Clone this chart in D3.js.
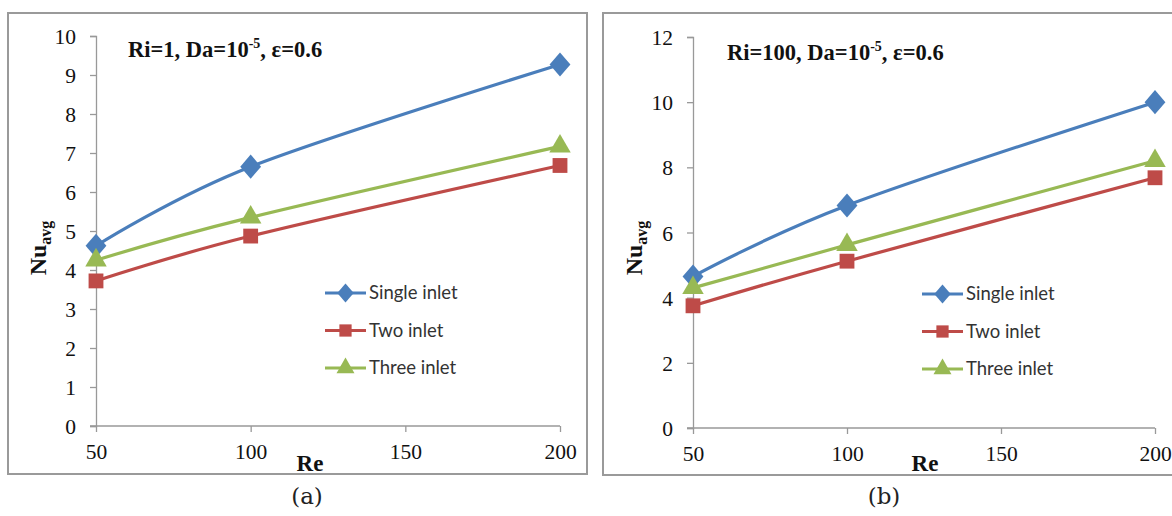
<!DOCTYPE html>
<html lang="en">
<head>
<meta charset="utf-8">
<style>
  body { margin: 0; background: #fff; }
  .legend text { font-family: Lato, "Open Sans", sans-serif; font-size: 18.5px; fill: #333; }
</style>
</head>
<body>
<svg width="1172" height="516"></svg>
<script src="https://cdn.jsdelivr.net/npm/d3@7/dist/d3.min.js"></script>
<script>
// Reynolds numbers on the x axis
var reValues = [50, 100, 200];
var reTicks = [50, 100, 150, 200];
var seriesNames = ["Single inlet", "Two inlet", "Three inlet"];

// panel (a): Ri=1
var singleA = [4.62, 6.65, 9.27];
var twoA = [3.72, 4.87, 6.68];
var threeA = [4.25, 5.35, 7.17];
var yTicksA = [0, 1, 2, 3, 4, 5, 6, 7, 8, 9, 10];

// panel (b): Ri=100
var singleB = [4.65, 6.83, 10.0];
var twoB = [3.75, 5.12, 7.68];
var threeB = [4.3, 5.62, 8.2];
var yTicksB = [0, 2, 4, 6, 8, 10, 12];

var colors = ["#4a7ebb", "#be4b48", "#98b954"];

// excel-like diamond: a bit taller than wide
var diamond = {
    draw: function (ctx, size) {
        var r = Math.sqrt(size / 2);
        ctx.moveTo(0, -r * 1.1);
        ctx.lineTo(r * 0.95, 0);
        ctx.lineTo(0, r * 1.1);
        ctx.lineTo(-r * 0.95, 0);
        ctx.closePath();
    }
};
var symbols = [diamond, d3.symbolSquare, d3.symbolTriangle];
var markerSizes = [240, 220, 200];
var legendSizes = [150, 150, 140];

var svg = d3.select("svg");

function drawPanel(p) {
    var g = svg.append("g");

    // outer frame
    g.append("rect")
        .attr("x", p.frame[0]).attr("y", p.frame[1])
        .attr("width", p.frame[2]).attr("height", p.frame[3])
        .attr("fill", "none").attr("stroke", "#9a9a9a").attr("stroke-width", 2);

    var x = d3.scaleLinear().domain([50, 200]).range([p.left, p.right]);
    var y = d3.scaleLinear().domain([0, p.yMax]).range([p.bottom, p.top]);

    var yAxis = g.append("g")
        .attr("transform", "translate(" + p.left + ",0)")
        .call(d3.axisLeft(y).tickValues(p.yTicks).tickSize(6).tickPadding(14));
    var xAxis = g.append("g")
        .attr("transform", "translate(0," + p.bottom + ")")
        .call(d3.axisBottom(x).tickValues(reTicks).tickSize(6).tickPadding(12));
    [xAxis, yAxis].forEach(function (a) {
        a.select(".domain").attr("stroke", "#999").attr("stroke-width", 1.3);
        a.selectAll(".tick line").attr("stroke", "#999").attr("stroke-width", 1.3);
        a.selectAll(".tick text")
            .attr("font-family", "Liberation Serif, serif")
            .attr("font-size", 21.5)
            .attr("fill", "#111");
    });
    yAxis.selectAll(".tick text").attr("dy", "0.35em");
    // extend the x axis line to meet the y ticks
    xAxis.select(".domain").attr("d", "M" + (p.left - 6) + ",0H" + x(200));

    var line = d3.line()
        .x(function (d, i) { return x(reValues[i]); })
        .y(function (d) { return y(d); })
        .curve(d3.curveCatmullRom.alpha(0));

    p.series.forEach(function (vals, k) {
        g.append("path")
            .datum(vals)
            .attr("d", line)
            .attr("fill", "none")
            .attr("stroke", colors[k])
            .attr("stroke-width", 3.2);
    });
    p.series.forEach(function (vals, k) {
        g.selectAll(null)
            .data(vals)
            .enter().append("path")
            .attr("transform", function (d, i) { return "translate(" + x(reValues[i]) + "," + y(d) + ")"; })
            .attr("d", d3.symbol().type(symbols[k]).size(markerSizes[k]))
            .attr("fill", colors[k]);
    });

    // legend
    var lg = g.append("g").attr("class", "legend");
    seriesNames.forEach(function (name, k) {
        var ly = p.legend[1] + k * 37.5;
        lg.append("line")
            .attr("x1", p.legend[0]).attr("x2", p.legend[0] + 41)
            .attr("y1", ly).attr("y2", ly)
            .attr("stroke", colors[k]).attr("stroke-width", 3);
        lg.append("path")
            .attr("transform", "translate(" + (p.legend[0] + 20.5) + "," + ly + ")")
            .attr("d", d3.symbol().type(symbols[k]).size(legendSizes[k]))
            .attr("fill", colors[k]);
        lg.append("text")
            .attr("x", p.legend[0] + 44).attr("y", ly + 6)
            .text(name);
    });

    // annotation
    var t = g.append("text")
        .attr("x", p.title[0]).attr("y", p.title[1])
        .attr("font-family", "Liberation Serif, serif")
        .attr("font-weight", "bold").attr("font-size", 22.5).attr("fill", "#111");
    t.append("tspan").text(p.titleText + ", Da=10");
    t.append("tspan").attr("font-size", 14).attr("dy", -9).text("-5");
    t.append("tspan").attr("dy", 9).text(", \u03b5=0.6");

    // y axis label
    var yl = g.append("text")
        .attr("transform", "translate(" + p.yLabel[0] + "," + p.yLabel[1] + ") rotate(-90)")
        .attr("text-anchor", "middle")
        .attr("font-family", "Liberation Serif, serif")
        .attr("font-weight", "bold").attr("font-size", 24).attr("fill", "#111");
    yl.append("tspan").text("Nu");
    yl.append("tspan").attr("font-size", 16).attr("dy", 5).text("avg");

    // x axis label
    g.append("text")
        .attr("x", p.xLabel[0]).attr("y", p.xLabel[1])
        .attr("text-anchor", "middle")
        .attr("font-family", "Liberation Serif, serif")
        .attr("font-weight", "bold").attr("font-size", 23).attr("fill", "#111")
        .text("Re");

    // panel caption
    g.append("text")
        .attr("x", p.caption[0]).attr("y", p.caption[1])
        .attr("text-anchor", "middle")
        .attr("font-family", "DejaVu Serif, serif")
        .attr("font-size", 23).attr("fill", "#222")
        .text(p.captionText);
}

drawPanel({
    frame: [8, 13, 579, 461],
    left: 96, right: 560, top: 36, bottom: 426,
    yMax: 10, yTicks: yTicksA,
    series: [singleA, twoA, threeA],
    legend: [325, 293],
    title: [128, 57], titleText: "Ri=1",
    yLabel: [46, 248],
    xLabel: [310, 471],
    caption: [307, 504], captionText: "(a)"
});

drawPanel({
    frame: [603, 13, 600, 462],
    left: 693, right: 1155, top: 37, bottom: 428,
    yMax: 12, yTicks: yTicksB,
    series: [singleB, twoB, threeB],
    legend: [922, 294],
    title: [727, 60], titleText: "Ri=100",
    yLabel: [642, 248],
    xLabel: [925, 471],
    caption: [884, 504], captionText: "(b)"
});
</script>
</body>
</html>
